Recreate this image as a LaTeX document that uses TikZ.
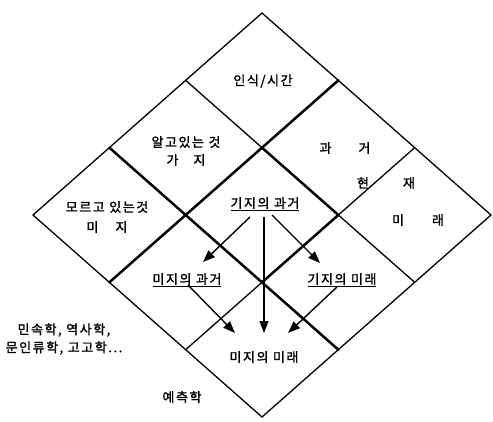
\documentclass[tikz,border=0pt]{standalone}
\usepackage{fontspec}
\setmainfont{Noto Sans CJK KR}[FakeBold=1.6, LetterSpace=12]
\usetikzlibrary{arrows.meta,calc}
\begin{document}
\begin{tikzpicture}[x=1pt,y=-1pt,
  gridline/.style={line width=1.3pt, line cap=round, line join=miter},
  heavyline/.style={line width=2.5pt, line cap=round},
  lbl/.style={inner sep=0pt, font=\fontsize{13}{18}\selectfont},
  arr/.style={line width=1.4pt, -{Triangle[length=12pt,width=9pt]}},
  ]
\useasboundingbox (0,0) rectangle (493,421);
\foreach \i in {0,...,3}{
  \foreach \j in {0,...,3}{
    \coordinate (p\i\j) at ({262+229*(\j-\i)/3},{13+202*(\i+\j)/3});
  }
}
% outer diamond and grid
\draw[gridline] (p00) -- (p03) -- (p33) -- (p30) -- cycle;
\draw[gridline] (p10) -- (p13);
\draw[gridline] (p20) -- (p23);
\draw[gridline] (p01) -- (p31);
\draw[gridline] (p02) -- (p32);
% heavy lines
\draw[heavyline] (p01) -- (p31);
\draw[heavyline] (p20) -- (p23);
\draw[heavyline] (p11) -- (p12) -- (p22);

% labels
\node[lbl] (ts) at (263,81) {인식/시간};
\node[lbl] (kn1) at (186,142) {알고있는 것};
\node[lbl] (kn2) at (186,160) {가\hspace{15pt}지};
\node[lbl] (un1) at (107,207) {모르고 있는것};
\node[lbl] (un2) at (107,227) {미\hspace{17pt}지};
\node[lbl] (t1) at (345,148) {과\hspace{27pt}거};
\node[lbl] (t2) at (386,183) {현\hspace{34pt}재};
\node[lbl] (t3) at (418,220) {미\hspace{28pt}래};
\node[lbl] (kp) at (265,204) {\underline{기지의 과거}};
\node[lbl] (mp) at (187,280) {\underline{미지의 과거}};
\node[lbl] (kf) at (342,280) {\underline{기지의 미래}};
\node[lbl] (mf) at (264,357) {미지의 미래};
\node[lbl, align=center] (sc) at (64,339) {민속학, 역사학,\\문인류학, 고고학...};
\node[lbl] (pr) at (182,397) {예측학};

% arrows
\draw[arr] ([shift={(-15,13)}]kp.center) -- ([shift={(16,-18)}]mp.center);
\draw[arr] ([shift={(-1,13)}]kp.center) -- ([shift={(0,-24)}]mf.center);
\draw[arr] ([shift={(7,11)}]kp.center) -- ([shift={(-22,-17)}]kf.center);
\draw[arr] ([shift={(1,5)}]mp.center) -- ([shift={(-29,-24)}]mf.center);
\draw[arr] ([shift={(-5,7)}]kf.center) -- ([shift={(24,-24)}]mf.center);
\end{tikzpicture}
\end{document}
